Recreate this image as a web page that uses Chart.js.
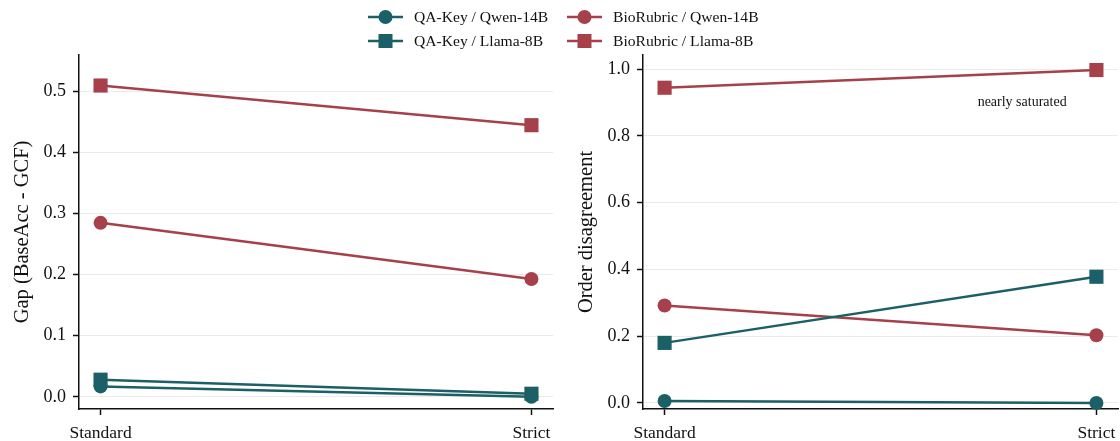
<!DOCTYPE html>
<html>
<head>
<meta charset="utf-8">
<script src="https://cdn.jsdelivr.net/npm/chart.js@4.4.1/dist/chart.umd.min.js"></script>
<style>
  html, body { margin: 0; padding: 0; background: #fff; }
  #wrap { position: relative; width: 1120px; height: 441px; overflow: hidden; }
  .panel { position: absolute; top: 0; width: 560px; height: 441px; }
  #legend { position: absolute; top: 0; left: 0; width: 1120px; height: 55px;
            font-family: "Liberation Serif", "DejaVu Serif", serif; font-size: 15.6px; color: #111; }
  .item { position: absolute; height: 20px; display: flex; align-items: center; }
  .item svg { margin-right: 11px; }
</style>
</head>
<body>
<div id="wrap">
  <div class="panel" style="left:0"><canvas id="gapChart" width="560" height="441"></canvas></div>
  <div class="panel" style="left:560px"><canvas id="orderChart" width="560" height="441"></canvas></div>
  <div id="legend"></div>
</div>
<script>
// ---- data ----
const categories = ['Standard', 'Strict'];
const seriesNames = ['QA-Key / Qwen-14B', 'QA-Key / Llama-8B', 'BioRubric / Qwen-14B', 'BioRubric / Llama-8B'];

// Gap (BaseAcc - GCF)
const gapQaQwen    = [0.017, 0.000];
const gapQaLlama   = [0.028, 0.005];
const gapBioQwen   = [0.285, 0.193];
const gapBioLlama  = [0.510, 0.445];

// Order disagreement
const ordQaQwen    = [0.006, 0.000];
const ordQaLlama   = [0.180, 0.378];
const ordBioQwen   = [0.292, 0.203];
const ordBioLlama  = [0.944, 0.997];

const gapTicks = [0.0, 0.1, 0.2, 0.3, 0.4, 0.5];
const ordTicks = [0.0, 0.2, 0.4, 0.6, 0.8, 1.0];

const TEAL = '#1b5f67';
const RED = '#a6404a';
const FONT = '"Liberation Serif", "DejaVu Serif", serif';

// ---- legend (html, two columns) ----
const legendItems = [
  { name: seriesNames[0], color: TEAL, shape: 'circle', left: 368, top: 7 },
  { name: seriesNames[1], color: TEAL, shape: 'square', left: 368, top: 31 },
  { name: seriesNames[2], color: RED, shape: 'circle', left: 567, top: 7 },
  { name: seriesNames[3], color: RED, shape: 'square', left: 567, top: 31 },
];
const legendEl = document.getElementById('legend');
legendItems.forEach(it => {
  const mark = it.shape === 'circle'
    ? `<circle cx="17.5" cy="10" r="7" fill="${it.color}"/>`
    : `<rect x="10.5" y="3" width="14" height="14" fill="${it.color}"/>`;
  const div = document.createElement('div');
  div.className = 'item';
  div.style.left = it.left + 'px';
  div.style.top = it.top + 'px';
  div.innerHTML = `<svg width="35" height="20"><line x1="0" y1="10" x2="35" y2="10" stroke="${it.color}" stroke-width="2.5"/>${mark}</svg><span>${it.name}</span>`;
  legendEl.appendChild(div);
});

// ---- charts ----
function toPoints(vals) {
  return vals.map((v, i) => ({ x: i, y: v }));
}

function makeDataset(label, vals, color, shape) {
  return {
    label,
    data: toPoints(vals),
    borderColor: color,
    backgroundColor: color,
    pointBackgroundColor: color,
    pointBorderWidth: 0,
    pointStyle: shape,
    pointRadius: shape === 'rect' ? 10 : 7,
    borderWidth: 2.5,
    tension: 0,
    clip: false,
  };
}

// annotation text drawn in data coords
const noteText = 'nearly saturated';
const notePos = { x: 0.828, y: 0.90 };
const notePlugin = {
  id: 'note',
  afterDatasetsDraw(chart, args, opts) {
    if (!opts.text) return;
    const { ctx, scales } = chart;
    ctx.save();
    ctx.font = '14px ' + FONT;
    ctx.fillStyle = '#111';
    ctx.textAlign = 'center';
    ctx.textBaseline = 'middle';
    ctx.fillText(opts.text, scales.x.getPixelForValue(opts.x), scales.y.getPixelForValue(opts.y));
    ctx.restore();
  }
};

function makeChart(id, sets, yTicks, yMin, yMax, yTitle, yWidth, titlePad, rightPad, note) {
  return new Chart(document.getElementById(id), {
    type: 'line',
    data: {
      datasets: [
        makeDataset(seriesNames[0], sets[0], TEAL, 'circle'),
        makeDataset(seriesNames[1], sets[1], TEAL, 'rect'),
        makeDataset(seriesNames[2], sets[2], RED, 'circle'),
        makeDataset(seriesNames[3], sets[3], RED, 'rect'),
      ]
    },
    options: {
      responsive: false,
      animation: false,
      layout: { autoPadding: false, padding: { top: 55, right: rightPad, left: 0, bottom: 0 } },
      plugins: {
        legend: { display: false },
        tooltip: { enabled: false },
        note: note || {},
      },
      scales: {
        x: {
          type: 'linear',
          min: -0.05,
          max: 1.05,
          afterBuildTicks: s => { s.ticks = categories.map((c, i) => ({ value: i })); },
          afterFit: s => { s.height = 32; s.paddingLeft = 0; s.paddingRight = 0; },
          ticks: {
            callback: v => categories[v],
            font: { family: FONT, size: 17.5 },
            color: '#111',
            padding: 8,
            maxRotation: 0,
          },
          grid: { drawOnChartArea: false, drawTicks: true, tickLength: 6, tickColor: '#111', tickWidth: 1.5 },
          border: { color: '#111', width: 1.5 },
        },
        y: {
          min: yMin,
          max: yMax,
          afterBuildTicks: s => { s.ticks = yTicks.map(v => ({ value: v })); },
          afterFit: s => { s.width = yWidth; },
          ticks: {
            callback: v => v.toFixed(1),
            font: { family: FONT, size: 18 },
            color: '#111',
            padding: 7,
          },
          title: {
            display: true,
            text: yTitle,
            font: { family: FONT, size: 20.5 },
            color: '#111',
            padding: { top: titlePad, bottom: 0 },
          },
          grid: { color: '#ebebeb', lineWidth: 1, drawTicks: true, tickLength: 6, tickColor: '#111', tickWidth: 1.5 },
          border: { color: '#111', width: 1.5 },
        }
      }
    },
    plugins: [notePlugin]
  });
}

makeChart('gapChart', [gapQaQwen, gapQaLlama, gapBioQwen, gapBioLlama],
  gapTicks, -0.02, 0.56, 'Gap (BaseAcc - GCF)', 79, 10, 7);

makeChart('orderChart', [ordQaQwen, ordQaLlama, ordBioQwen, ordBioLlama],
  ordTicks, -0.018, 1.042, 'Order disagreement', 83, 14, 2,
  { text: noteText, x: notePos.x, y: notePos.y });
</script>
</body>
</html>
